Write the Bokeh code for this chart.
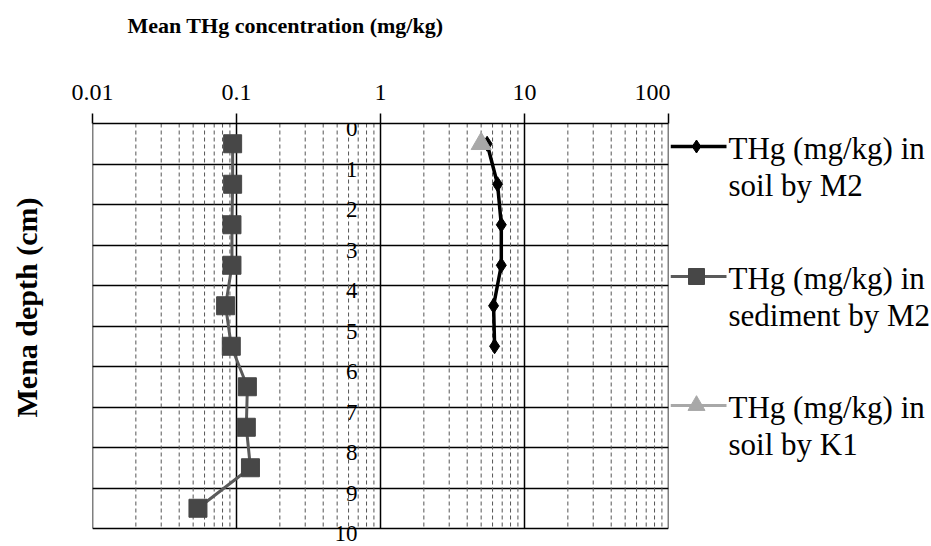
from bokeh.plotting import figure
from bokeh.models import (Range1d, FixedTicker, LabelSet, Title, ColumnDataSource)
from bokeh.layouts import row
from bokeh.core.properties import value
from bokeh.embed import file_html
from bokeh.resources import INLINE

# ---- data ----
soil_m2_depth = [0.5, 1.5, 2.5, 3.5, 4.5, 5.5]
soil_m2_thg = [5.5, 6.5, 6.9, 6.9, 6.1, 6.2]

sed_m2_depth = [0.5, 1.5, 2.5, 3.5, 4.5, 5.5, 6.5, 7.5, 8.5, 9.5]
sed_m2_thg = [0.094, 0.094, 0.093, 0.093, 0.084, 0.092, 0.119, 0.117, 0.125, 0.054]

soil_k1_depth = [0.5]
soil_k1_thg = [5.0]

x_ticks = [0.01, 0.1, 1, 10, 100]
x_tick_labels = ["0.01", "0.1", "1", "10", "100"]
x_minor = [m * d for d in [0.01, 0.1, 1, 10] for m in range(2, 10)]
y_ticks = list(range(0, 11))
y_tick_labels = [str(v) for v in y_ticks]

x_title = "Mean THg concentration (mg/kg)"
y_title = "Mena depth (cm)"
legend_labels = [["THg (mg/kg) in", "soil by M2"],
                 ["THg (mg/kg) in", "sediment by M2"],
                 ["THg (mg/kg) in", "soil by K1"]]

SERIF = "Liberation Serif"
C_SOIL = "#000000"
C_SED = "#474747"
C_SED_LINE = "#5a5a5a"
C_K1 = "#a8a8a8"

W, H = 670, 546
TOP, LEFT, RIGHT = 123, 92, 2
PX_PER_CM = 40.5
y_bottom = y_ticks[-1] + 18 / PX_PER_CM   # extra room below the last grid line

p = figure(width=W, height=H, x_axis_type="log", x_axis_location="above",
           x_range=Range1d(0.01, 100), y_range=Range1d(y_bottom, 0),
           output_backend="svg", toolbar_location=None,
           min_border_left=LEFT, min_border_right=RIGHT, min_border_top=TOP,
           min_border_bottom=0)
p.outline_line_color = None

# top x axis
xa = p.xaxis[0]
xa.ticker = FixedTicker(ticks=x_ticks, minor_ticks=x_minor)
xa.major_label_overrides = {t: l for t, l in zip(x_ticks, x_tick_labels)}
xa.major_label_text_font = SERIF
xa.major_label_text_font_size = "24px"
xa.major_label_text_color = "black"
xa.major_tick_in = 0
xa.major_tick_out = 10
xa.major_tick_line_color = "black"
xa.major_tick_line_width = 1.5
xa.minor_tick_line_color = None
xa.axis_line_color = "black"
xa.axis_line_width = 1.5
xa.major_label_standoff = 14

# left axis: nothing visible
ya = p.yaxis[0]
ya.ticker = FixedTicker(ticks=[])
ya.axis_line_color = None
ya.major_tick_line_color = None
ya.minor_tick_line_color = None
ya.major_tick_in = 0
ya.major_tick_out = 0
ya.major_label_standoff = 0

# titles with spacers
p.add_layout(Title(text=" ", text_font_size="10px", standoff=31), "above")
p.add_layout(Title(text=x_title, text_font=SERIF, text_font_style="bold",
                   text_font_size="22px", text_color="black", align="left",
                   offset=35, standoff=0, vertical_align="bottom"), "above")
p.add_layout(Title(text=" ", text_font_size="10px", standoff=37), "left")
p.add_layout(Title(text=y_title, text_font=SERIF, text_font_style="bold",
                   text_font_size="30px", text_color="black", align="left",
                   offset=129, standoff=0, vertical_align="bottom"), "left")

# grids
p.xgrid.visible = False
p.ygrid[0].ticker = FixedTicker(ticks=y_ticks)
p.ygrid.grid_line_color = "black"
p.ygrid.grid_line_width = 1.5
y0 = [y_ticks[0]]
y1 = [y_ticks[-1]]
p.segment(x0=x_minor, y0=y0 * len(x_minor), x1=x_minor, y1=y1 * len(x_minor),
          line_color="#555555", line_dash="4 3", line_width=1)
p.segment(x0=x_ticks, y0=y0 * len(x_ticks), x1=x_ticks, y1=y1 * len(x_ticks),
          line_color="black", line_width=1.5)

# series
p.line(sed_m2_thg, sed_m2_depth, line_color=C_SED_LINE, line_width=3)
p.scatter(sed_m2_thg, sed_m2_depth, marker="square", size=18,
          fill_color=C_SED, line_color=C_SED)
p.line(soil_m2_thg, soil_m2_depth, line_color=C_SOIL, line_width=3.5)
p.scatter(soil_m2_thg, soil_m2_depth, marker="diamond", size=15,
          fill_color=C_SOIL, line_color=C_SOIL)
p.scatter(soil_k1_thg, soil_k1_depth, marker="triangle", size=20,
          fill_color=C_K1, line_color=C_K1)

# y tick labels next to the vertical axis at x = 1
ysrc = ColumnDataSource(dict(x=[1] * len(y_ticks), y=y_ticks, t=y_tick_labels))
p.add_layout(LabelSet(x="x", y="y", text="t", source=ysrc, x_offset=-23, y_offset=-5,
                      text_align="right", text_baseline="middle",
                      text_font=value(SERIF), text_font_size="23px",
                      text_color="black"))

# legend panel (coordinates in page pixels, frame aligned with main frame)
LW = 260
leg = figure(width=LW, height=H, x_range=Range1d(0, LW), y_range=Range1d(H, TOP),
             x_axis_type=None, y_axis_type=None, output_backend="svg",
             toolbar_location=None, min_border_left=0, min_border_right=0,
             min_border_top=TOP, min_border_bottom=0)
leg.outline_line_color = None
leg.xgrid.visible = False
leg.ygrid.visible = False

item_y = [146, 276, 405]
styles = [(C_SOIL, C_SOIL, "diamond", 13, 3.5),
          (C_SED_LINE, C_SED, "square", 16, 3),
          (C_K1, C_K1, "triangle", 17, 3)]
for yy, (lc, mc, mk, ms, lw), lab in zip(item_y, styles, legend_labels):
    leg.line([0, 56], [yy, yy], line_color=lc, line_width=lw)
    leg.scatter([26], [yy], marker=mk, size=ms, fill_color=mc, line_color=mc)
    leg.text([58, 58], [yy + 2, yy + 39], text=lab, text_font=value(SERIF),
             text_font_size="31px", text_baseline="middle", text_align="left",
             text_color="black")

layout = row(p, leg)
open("out.html", "w").write(file_html(layout, INLINE))
